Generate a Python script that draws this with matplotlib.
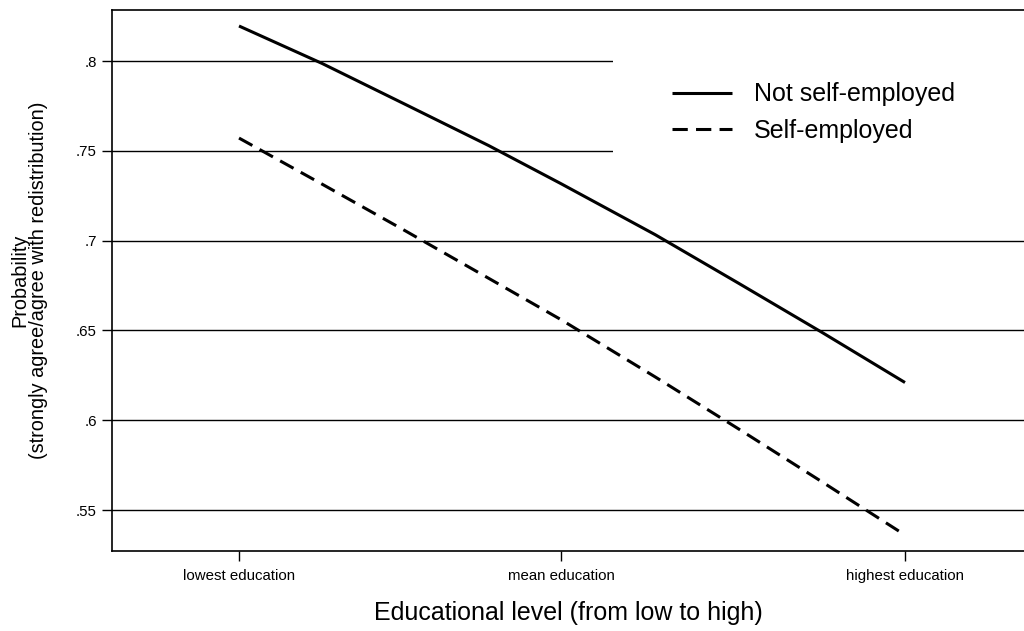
import matplotlib
matplotlib.use("Agg")
import matplotlib.pyplot as plt
from matplotlib.patches import Rectangle

plt.rcParams['font.family'] = ['Liberation Sans', 'DejaVu Sans']

# Data (education positions normalised: lowest=0, highest=1)
edu = [0.0, 0.125, 0.25, 0.375, 0.4835, 0.625, 0.75, 0.875, 1.0]
not_self_employed = [0.8195, 0.7986, 0.7758, 0.7529, 0.7317, 0.7033, 0.6763, 0.6490, 0.6210]
self_employed = [0.7571, 0.7314, 0.7054, 0.6790, 0.6560, 0.6241, 0.5952, 0.5658, 0.5361]
tick_pos = [0.0, 0.4835, 1.0]
tick_labels = ["lowest education", "mean education", "highest education"]
yticks = [0.55, 0.60, 0.65, 0.70, 0.75, 0.80]
ytick_labels = [".55", ".6", ".65", ".7", ".75", ".8"]
series_labels = ["Not self-employed", "Self-employed"]

fig = plt.figure(figsize=(10.24, 6.31), dpi=100)
ax = fig.add_axes([112/1024, 1-551/631, 1-112/1024, 541/631])

ax.set_xlim(-0.1907, 1.1787)
ax.set_ylim(0.5272, 0.8284)

for y in yticks:
    ax.axhline(y, color='black', lw=1.0, zorder=1)

# white legend background covering gridlines
ax.add_patch(Rectangle((0.5493, 0.69), 0.46, 0.27, transform=ax.transAxes,
                       facecolor='white', edgecolor='none', zorder=2))

ax.plot(edu, not_self_employed, color='black', lw=2.2, ls='-', zorder=3,
        label=series_labels[0], solid_capstyle='butt')
ax.plot(edu, self_employed, color='black', lw=2.2, zorder=3,
        dashes=(5, 2.7), label=series_labels[1])

ax.set_xticks(tick_pos)
ax.set_xticklabels(tick_labels, fontsize=10.8)
ax.set_yticks(yticks)
ax.set_yticklabels(ytick_labels, fontsize=10.8)
ax.tick_params(axis='x', length=7, width=1, pad=6, color='black')
ax.tick_params(axis='y', length=7, width=1, pad=4, color='black')

for s in ['left', 'bottom', 'top']:
    ax.spines[s].set_linewidth(1.2)
    ax.spines[s].set_color('black')
ax.spines['right'].set_visible(False)

ax.set_xlabel("Educational level (from low to high)", fontsize=18, labelpad=13)
ax.set_ylabel("Probability\n(strongly agree/agree with redistribution)",
              fontsize=14.3, linespacing=1.0, labelpad=20)

leg = ax.legend(loc='upper left', bbox_to_anchor=(0.614, 0.866), frameon=False,
                fontsize=18, handlelength=2.4, handletextpad=0.88,
                labelspacing=0.5, borderpad=0, borderaxespad=0)
leg.set_zorder(4)

fig.savefig("out.png", dpi=100)
